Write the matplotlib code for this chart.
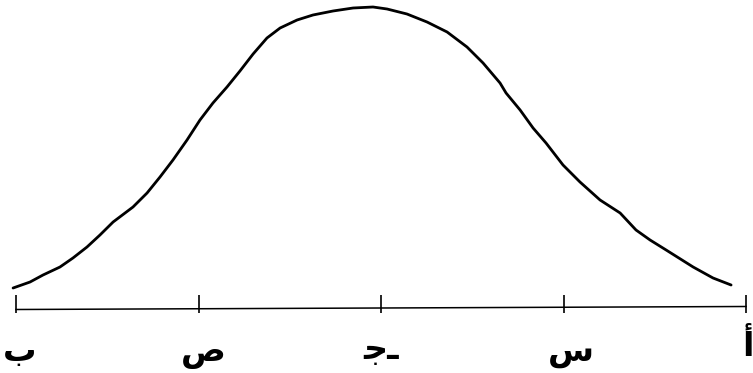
import matplotlib
matplotlib.use("Agg")
import matplotlib.pyplot as plt

# curve: x in tick units (0 = first tick), y = height above base line
curve_x = [-0.016, 0.077, 0.148, 0.241, 0.312, 0.389, 0.460, 0.532, 0.641, 0.718,
           0.789, 0.860, 0.937, 1.008, 1.079, 1.156, 1.227, 1.299, 1.375, 1.447,
           1.540, 1.627, 1.737, 1.847, 1.956, 2.033, 2.142, 2.252, 2.362, 2.471,
           2.559, 2.652, 2.685, 2.762, 2.833, 2.904, 2.997, 3.090, 3.200, 3.310,
           3.397, 3.474, 3.562, 3.710, 3.819, 3.918]
curve_y = [20, 26, 33, 41, 50, 61, 73, 86, 101, 115,
           131, 148, 168, 188, 205, 221, 237, 254, 270, 280,
           288, 293, 297, 300, 301, 299, 294, 286, 276, 261,
           245, 225, 215, 198, 180, 165, 143, 126, 108, 95,
           78, 68, 58, 41, 30, 23]

tick_pos = [0, 1, 2, 3, 4]
tick_labels = ["ب", "ص", "\ufe9f\u0640", "س", "أ"]
label_x = [0.02, 1.025, 2.0, 3.04, 4.01]
label_y = [-53, -53, -51, -53, -48]

fig = plt.figure(figsize=(7.53, 3.73), dpi=100)
ax = fig.add_axes([0, 0, 1, 1])
ax.axis("off")

ax.plot(curve_x, curve_y, color="black", lw=2.0,
        solid_capstyle="round", solid_joinstyle="round")

# base line with ticks
ax.plot([tick_pos[0], tick_pos[-1]], [-1.5, 1.5], color="black", lw=1.1)
ax.vlines(tick_pos, -4.5, 13, color="black", lw=1.2)

for x, y, lab in zip(label_x, label_y, tick_labels):
    ax.text(x, y, lab, ha="center", va="baseline", fontsize=24,
            fontweight="bold", family=["DejaVu Sans"])

ax.set_xlim(-0.0877, 4.038)
ax.set_ylim(-65, 308)

fig.savefig("out.png", dpi=100)
